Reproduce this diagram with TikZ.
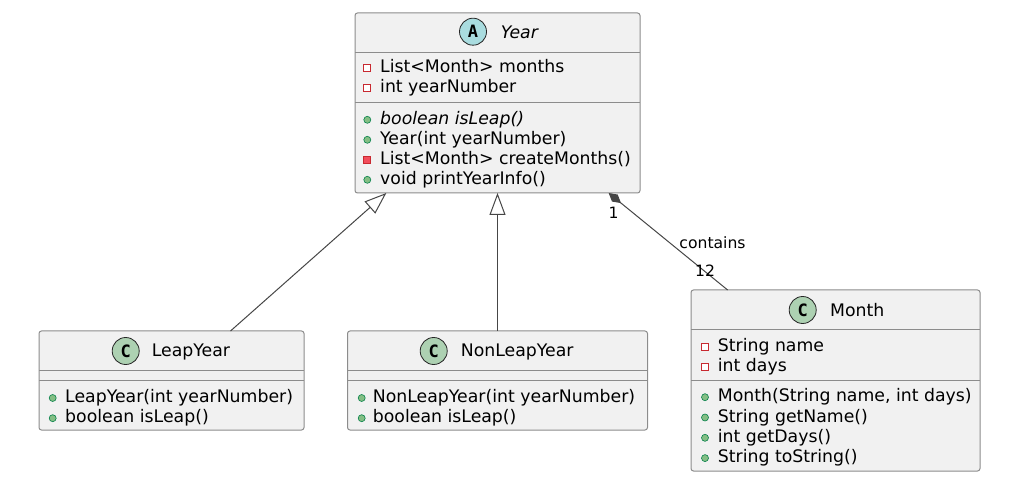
\documentclass[tikz,border=0pt]{standalone}
\usepackage{fontspec}
\setmainfont{DejaVu Sans}
\newfontfamily\badgefont{DejaVu Sans Mono}
\usepackage{xcolor}
\usepackage{tikz}
\usetikzlibrary{arrows.meta,positioning}
\definecolor{uBox}{RGB}{241,241,241}
\definecolor{uLine}{RGB}{140,140,140}
\definecolor{uEdge}{RGB}{70,70,70}
\definecolor{uAbs}{RGB}{169,220,223}
\definecolor{uCls}{RGB}{173,209,178}
\definecolor{uRed}{RGB}{200,41,48}
\definecolor{uRedFill}{RGB}{242,77,92}
\definecolor{uGreen}{RGB}{3,128,72}
\definecolor{uGreenFill}{RGB}{132,190,132}

\begin{document}
\begin{tikzpicture}[x=1pt, y=-1pt, font=\fontsize{17.3}{20}\selectfont,
  classbox/.style={draw=uLine, fill=uBox, line width=1pt, rounded corners=2.5pt, inner sep=0pt, outer sep=0pt},
  rule/.style={draw=uLine, line width=1pt},
  badge/.style={circle, draw=black!85, line width=0.8pt, minimum size=27pt, inner sep=0pt, font=\badgefont\bfseries\fontsize{17}{17}\selectfont},
  row/.style={anchor=base west, inner sep=0pt},
  priv/.style={draw=uRed, fill=white, line width=0.8pt, minimum size=7pt, inner sep=0pt},
  privop/.style={priv, fill=uRedFill},
  pub/.style={circle, draw=uGreen, fill=uGreenFill, line width=0.6pt, minimum size=7pt, inner sep=0pt},
  edge/.style={draw=uEdge, line width=1pt},
  small/.style={font=\fontsize{15.6}{16}\selectfont, inner sep=0pt}]
  \useasboundingbox (0,0) rectangle (1010,494);

  \node[classbox, minimum width=285pt, minimum height=180pt] (year) at (497.5,103) {};
  \node[classbox, minimum width=265pt, minimum height=99pt] (leap) at (171.5,380.5) {};
  \node[classbox, minimum width=300pt, minimum height=99pt] (nonleap) at (497.5,380.5) {};
  \node[classbox, minimum width=289pt, minimum height=181pt] (month) at (835.5,380.5) {};

  \draw[rule] (355,52.3) -- (640,52.3);
  \draw[rule] (355,102.7) -- (640,102.7);
  \draw[rule] (39,371) -- (304,371);
  \draw[rule] (39,381) -- (304,381);
  \draw[rule] (347.5,371) -- (647.5,371);
  \draw[rule] (347.5,381) -- (647.5,381);
  \draw[rule] (691,330) -- (980,330);
  \draw[rule] (691,381) -- (980,381);

  \node[badge, fill=uAbs] (yearA) at (473,31.7) {A};
  \node[row] (yearName) at (500.7,38.3) {\itshape Year};
  \node[priv] (yF1i) at (367.3,68.2) {};
  \node[row] (yF1) at (380,72.7) {List<Month> months};
  \node[priv] (yF2i) at (367.3,88.2) {};
  \node[row] (yF2) at (380,92.7) {int yearNumber};
  \node[pub] (yM1i) at (367.3,119.8) {};
  \node[row] (yM1) at (380,124.3) {\itshape boolean isLeap()};
  \node[pub] (yM2i) at (367.3,139.8) {};
  \node[row] (yM2) at (380,144.3) {Year(int yearNumber)};
  \node[privop] (yM3i) at (367.3,159.8) {};
  \node[row] (yM3) at (380,164.3) {List<Month> createMonths()};
  \node[pub] (yM4i) at (367.3,179.8) {};
  \node[row] (yM4) at (380,184.3) {void printYearInfo()};

  \node[badge, fill=uCls] (leapC) at (125.7,351) {C};
  \node[row] (leapName) at (151.7,356.7) {LeapYear};
  \node[pub] (lM1i) at (52.7,398) {};
  \node[row] (lM1) at (65,402.5) {LeapYear(int yearNumber)};
  \node[pub] (lM2i) at (52.7,418.2) {};
  \node[row] (lM2) at (65,422.7) {boolean isLeap()};

  \node[badge, fill=uCls] (nonleapC) at (433.7,351) {C};
  \node[row] (nonleapName) at (460.7,356.7) {NonLeapYear};
  \node[pub] (nM1i) at (361.7,398) {};
  \node[row] (nM1) at (372.7,402.5) {NonLeapYear(int yearNumber)};
  \node[pub] (nM2i) at (361.7,418.2) {};
  \node[row] (nM2) at (372.7,422.7) {boolean isLeap()};

  \node[badge, fill=uCls] (monthC) at (802.7,310) {C};
  \node[row] (monthName) at (830,316.7) {Month};
  \node[priv] (mF1i) at (705,347.2) {};
  \node[row] (mF1) at (717.7,351.7) {String name};
  \node[priv] (mF2i) at (705,367.2) {};
  \node[row] (mF2) at (717.7,371.7) {int days};
  \node[pub] (mM1i) at (705,397.2) {};
  \node[row] (mM1) at (717.7,401.7) {Month(String name, int days)};
  \node[pub] (mM2i) at (705,417.5) {};
  \node[row] (mM2) at (717.7,422) {String getName()};
  \node[pub] (mM3i) at (705,437.8) {};
  \node[row] (mM3) at (717.7,442.3) {int getDays()};
  \node[pub] (mM4i) at (705,458.1) {};
  \node[row] (mM4) at (717.7,462.6) {String toString()};

  \draw[edge, -{Triangle[open, length=22pt, width=16pt, fill=white]}] (leap.40.2) -- (year.219.7);
  \draw[edge, -{Triangle[open, length=22pt, width=16pt, fill=white]}] (nonleap.north) -- (year.south);
  \draw[edge, {Diamond[length=16pt, width=9pt]}-] (year.-39.4) -- (month.140.4);

  \node[small] (multYear) at (613.5,212.5) {1};
  \node[small] (contains) at (712.5,242.5) {contains};
  \node[small] (multMonth) at (705,271) {12};
\end{tikzpicture}
\end{document}
